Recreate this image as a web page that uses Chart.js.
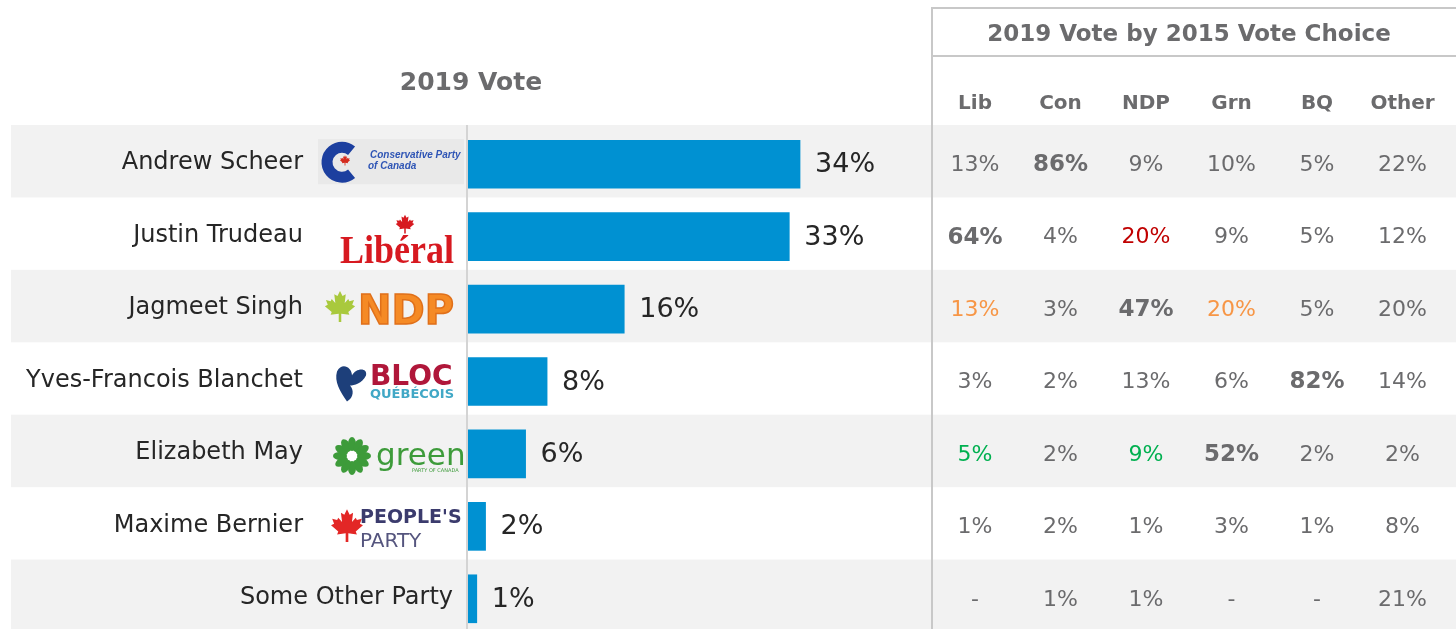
<!DOCTYPE html>
<html>
<head>
<meta charset="utf-8">
<title>2019 Vote</title>
<script src="https://cdn.jsdelivr.net/npm/chart.js@4/dist/chart.umd.min.js"></script>
<style>
  html, body { margin: 0; padding: 0; background: #fff; overflow: hidden; }
  canvas { display: block; }
</style>
</head>
<body>
<canvas id="myChart" width="1456" height="640"></canvas>
<script>
// 2019 vote intention, one bar per leader
const candidatos = ["Andrew Scheer", "Justin Trudeau", "Jagmeet Singh", "Yves-Francois Blanchet", "Elizabeth May", "Maxime Bernier", "Some Other Party"];
const logos = ["con", "lib", "ndp", "bloc", "green", "ppc", null];
const voto2019 = [34, 32.9, 16, 8.1, 5.9, 1.8, 0.9];

// table: 2019 vote by 2015 vote choice (one array per 2015 column)
const columnas2015 = ["Lib", "Con", "NDP", "Grn", "BQ", "Other"];
const desdeLib = [13, 64, 13, 3, 5, 1, null];
const desdeCon = [86, 4, 3, 2, 2, 2, 1];
const desdeNdp = [9, 20, 47, 13, 9, 1, 1];
const desdeGrn = [10, 9, 20, 6, 52, 3, null];
const desdeBq = [5, 5, 5, 82, 2, 1, null];
const desdeOther = [22, 12, 20, 14, 2, 8, 21];
const tabla = [desdeLib, desdeCon, desdeNdp, desdeGrn, desdeBq, desdeOther];

// own-party retention (bold) and coloured second choices
const propio = ["Con", "Lib", "NDP", "BQ", "Grn", null, null];
const resaltados = [
  [1, "NDP", "#c00000"],
  [2, "Lib", "#f79646"],
  [2, "Grn", "#f79646"],
  [4, "Lib", "#00b050"],
  [4, "NDP", "#00b050"]
];

const FUENTE = "'DejaVu Sans', Verdana, sans-serif";
const GRIS = "#6b6b6d";

function hoja(ctx, cx, cy, s, color) {
  const pts = [[0,-1],[0.14,-0.72],[0.32,-0.82],[0.26,-0.34],[0.46,-0.56],[0.52,-0.44],[0.78,-0.5],[0.68,-0.24],[0.84,-0.16],[0.46,0.16],[0.52,0.32],[0.07,0.26],[0.07,0.72]];
  ctx.beginPath();
  pts.forEach((p, i) => {
    if (i == 0) ctx.moveTo(cx + p[0]*s, cy + p[1]*s);
    else ctx.lineTo(cx + p[0]*s, cy + p[1]*s);
  });
  for (let i = pts.length - 1; i > 0; i--) {
    ctx.lineTo(cx - pts[i][0]*s, cy + pts[i][1]*s);
  }
  ctx.closePath();
  ctx.fillStyle = color;
  ctx.fill();
}

function dibujarLogo(ctx, tipo, y) {
  ctx.save();
  ctx.textBaseline = "alphabetic";
  ctx.textAlign = "left";
  if (tipo == "con") {
    ctx.fillStyle = "#e9e9e9";
    ctx.fillRect(318, y - 25, 146, 45);
    ctx.strokeStyle = "#1c3f9f";
    ctx.lineWidth = 11;
    ctx.beginPath();
    ctx.arc(342, y - 2, 15, 0.28*Math.PI, 1.72*Math.PI);
    ctx.stroke();
    hoja(ctx, 345, y - 3, 6, "#d52b1e");
    ctx.fillStyle = "#2f55b5";
    ctx.font = "italic bold 10px 'Liberation Sans', sans-serif";
    ctx.fillText("Conservative Party", 370, y - 6);
    ctx.fillText("of Canada", 368, y + 5);
  } else if (tipo == "lib") {
    hoja(ctx, 405, y - 11, 11, "#d71920");
    ctx.fillStyle = "#d71920";
    ctx.font = "bold 40px 'Liberation Serif', serif";
    ctx.translate(340, y + 26);
    ctx.scale(0.9, 1);
    ctx.fillText("Libéral", 0, 0);
  } else if (tipo == "ndp") {
    hoja(ctx, 340, y, 18, "#a9c93d");
    ctx.font = "bold 40px " + FUENTE;
    ctx.fillStyle = "#f58a25";
    ctx.strokeStyle = "#e0701a";
    ctx.lineWidth = 1.5;
    ctx.fillText("NDP", 358, y + 15);
    ctx.strokeText("NDP", 358, y + 15);
  } else if (tipo == "bloc") {
    ctx.fillStyle = "#1d3f7a";
    ctx.beginPath();
    ctx.moveTo(337, y - 10);
    ctx.bezierCurveTo(342, y - 20, 352, y - 14, 352, y - 6);
    ctx.bezierCurveTo(356, y - 14, 368, y - 14, 366, y - 6);
    ctx.bezierCurveTo(362, y + 2, 354, y + 4, 350, y + 4);
    ctx.bezierCurveTo(354, y + 8, 354, y + 16, 347, y + 20);
    ctx.bezierCurveTo(340, y + 10, 334, y, 337, y - 10);
    ctx.fill();
    ctx.fillStyle = "#b0173a";
    ctx.font = "bold 28px " + FUENTE;
    ctx.fillText("BLOC", 370, y + 3);
    ctx.fillStyle = "#41a8c6";
    ctx.font = "bold 13px " + FUENTE;
    ctx.fillText("QUÉBÉCOIS", 370, y + 16);
  } else if (tipo == "green") {
    ctx.fillStyle = "#3d9b3a";
    for (let i = 0; i < 12; i++) {
      const a = i * Math.PI / 6;
      ctx.beginPath();
      ctx.ellipse(352 + Math.cos(a)*12, y + 2 + Math.sin(a)*12, 7, 4, a, 0, 2*Math.PI);
      ctx.fill();
    }
    ctx.fillStyle = "#ffffff";
    ctx.beginPath();
    ctx.arc(352, y + 2, 5, 0, 2*Math.PI);
    ctx.fill();
    ctx.fillStyle = "#3d9b3a";
    ctx.font = "31px " + FUENTE;
    ctx.fillText("green", 376, y + 11);
    ctx.font = "5px " + FUENTE;
    ctx.fillText("PARTY OF CANADA", 412, y + 18);
  } else if (tipo == "ppc") {
    hoja(ctx, 347, y + 2, 19, "#e32726");
    ctx.fillStyle = "#3b3b6d";
    ctx.font = "bold 19px " + FUENTE;
    ctx.fillText("PEOPLE'S", 360, y - 3);
    ctx.fillStyle = "#55557e";
    ctx.font = "20px " + FUENTE;
    ctx.fillText("PARTY", 360, y + 21);
  }
  ctx.restore();
}

const fondoYTabla = {
  id: "fondoYTabla",
  beforeDatasetsDraw(chart) {
    const ctx = chart.ctx;
    const y = chart.scales.y;
    const paso = y.getPixelForValue(1) - y.getPixelForValue(0);
    ctx.save();
    // alternating row bands
    candidatos.forEach((c, i) => {
      if (i % 2 == 0) {
        const cy = y.getPixelForValue(i);
        ctx.fillStyle = "#f2f2f2";
        ctx.fillRect(11, cy - paso/2 - 3, 1456, paso);
      }
    });
    // bar axis line
    ctx.fillStyle = "#d4d4d4";
    ctx.fillRect(chart.chartArea.left - 2, 125, 2, 520);
    // table frame
    ctx.fillStyle = "#c8c8c8";
    ctx.fillRect(931, 7, 2, 640);
    ctx.fillRect(931, 7, 530, 2);
    ctx.fillRect(931, 55, 530, 2);
    ctx.restore();
  },
  afterDatasetsDraw(chart) {
    const ctx = chart.ctx;
    const barras = chart.getDatasetMeta(0).data;
    ctx.save();
    ctx.textBaseline = "middle";

    // headings
    ctx.fillStyle = GRIS;
    ctx.textAlign = "center";
    ctx.font = "bold 25px " + FUENTE;
    ctx.fillText("2019 Vote", 471, 83);
    ctx.font = "bold 23px " + FUENTE;
    ctx.fillText("2019 Vote by 2015 Vote Choice", 1189, 35);
    ctx.font = "bold 20px " + FUENTE;
    const colX = columnas2015.map((c, j) => 975 + j * 85.5);
    columnas2015.forEach((c, j) => ctx.fillText(c, colX[j], 104));

    barras.forEach((bar, i) => {
      // value label
      ctx.textAlign = "left";
      ctx.fillStyle = "#262626";
      ctx.font = "27px " + FUENTE;
      ctx.fillText(Math.round(voto2019[i]) + "%", bar.x + 15, bar.y + 1);

      // leader name + logo
      ctx.textAlign = "right";
      ctx.font = "24px " + FUENTE;
      ctx.fillText(candidatos[i], logos[i] ? 303 : 453, bar.y - 1);
      if (logos[i]) dibujarLogo(ctx, logos[i], bar.y);

      // table row
      ctx.textAlign = "center";
      tabla.forEach((col, j) => {
        const v = col[i];
        let color = GRIS;
        resaltados.forEach(r => {
          if (r[0] == i && r[1] == columnas2015[j]) color = r[2];
        });
        const negrita = propio[i] == columnas2015[j];
        ctx.fillStyle = color;
        ctx.font = (negrita ? "bold 23px " : "22px ") + FUENTE;
        ctx.fillText(v === null ? "-" : v + "%", colX[j], bar.y + 1);
      });
    });
    ctx.restore();
  }
};

const ctx = document.getElementById("myChart");
const myChart = new Chart(ctx, {
  type: "bar",
  data: {
    labels: candidatos,
    datasets: [
      {
        label: "2019 Vote",
        data: voto2019,
        backgroundColor: "#0091d2",
        barThickness: 48,
      },
    ],
  },
  options: {
    indexAxis: "y",
    responsive: false,
    animation: false,
    devicePixelRatio: 1,
    layout: {
      padding: { left: 468, right: 529, top: 128, bottom: 5 },
    },
    scales: {
      x: { display: false, min: 0, max: 47 },
      y: { display: false },
    },
    plugins: {
      legend: { display: false },
      tooltip: { enabled: false },
    },
  },
  plugins: [fondoYTabla],
});
</script>
</body>
</html>
